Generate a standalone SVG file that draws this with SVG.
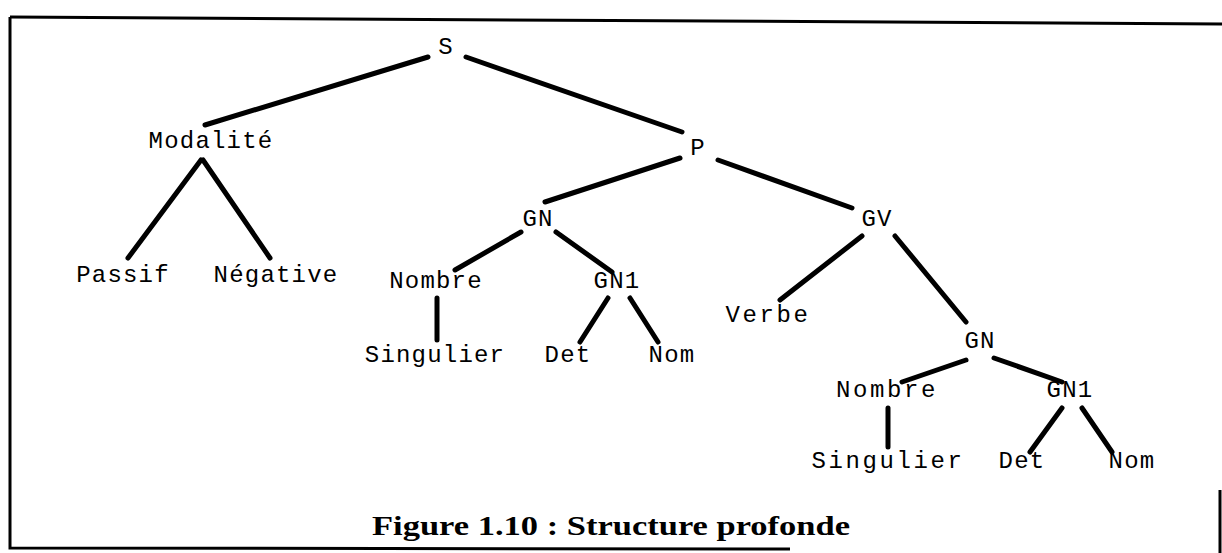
<svg xmlns="http://www.w3.org/2000/svg" width="1222" height="553" viewBox="0 0 1222 553">
<style>
.n{font-family:"Liberation Mono","Courier New",monospace;font-size:24px;letter-spacing:1.2px;fill:#000;text-anchor:middle}
.w{letter-spacing:2.6px}
.e{stroke:#000;stroke-width:5;stroke-linecap:round;fill:none}
.f{stroke:#000;stroke-width:3;fill:none}
.cap{font-family:"Liberation Serif","Times New Roman",serif;font-size:27px;font-weight:bold;fill:#000}
</style>
<rect width="1222" height="553" fill="#fff"/>
<g id="frame">
<path class="f" d="M10,17 L1222,24"/>
<path class="f" d="M10,17 L10,548 L790,549"/>
<path class="f" d="M1220,490 L1220,553"/>
</g>
<g id="connectors">
<line class="e" x1="428" y1="57" x2="205" y2="125"/>
<line class="e" x1="466" y1="57" x2="682" y2="132"/>
<line class="e" x1="201" y1="160" x2="128" y2="258"/>
<line class="e" x1="203" y1="160" x2="270" y2="258"/>
<line class="e" x1="680" y1="158" x2="545" y2="202"/>
<line class="e" x1="718" y1="160" x2="852" y2="208"/>
<line class="e" x1="521" y1="232" x2="455" y2="270"/>
<line class="e" x1="556" y1="232" x2="612" y2="272"/>
<line class="e" x1="437" y1="298" x2="437" y2="340"/>
<line class="e" x1="608" y1="298" x2="580" y2="342"/>
<line class="e" x1="630" y1="298" x2="658" y2="342"/>
<line class="e" x1="862" y1="236" x2="780" y2="300"/>
<line class="e" x1="895" y1="236" x2="966" y2="322"/>
<line class="e" x1="966" y1="360" x2="902" y2="382"/>
<line class="e" x1="994" y1="358" x2="1062" y2="382"/>
<line class="e" x1="888" y1="408" x2="888" y2="447"/>
<line class="e" x1="1062" y1="408" x2="1030" y2="452"/>
<line class="e" x1="1082" y1="408" x2="1112" y2="452"/>
</g>
<g id="n-S"><text class="n" x="446" y="54">S</text></g>
<g id="n-Modalite"><text class="n" x="211" y="148">Modalité</text></g>
<g id="n-Passif"><text class="n" x="123" y="282">Passif</text></g>
<g id="n-Negative"><text class="n" x="276" y="282">Négative</text></g>
<g id="n-P"><text class="n" x="698" y="155">P</text></g>
<g id="n-GN1"><text class="n" x="538" y="226">GN</text></g>
<g id="n-Nombre1"><text class="n" x="436" y="288">Nombre</text></g>
<g id="n-GN1a"><text class="n" x="617" y="288">GN1</text></g>
<g id="n-Singulier1"><text class="n" x="435" y="362">Singulier</text></g>
<g id="n-Det1"><text class="n" x="568" y="362">Det</text></g>
<g id="n-Nom1"><text class="n" x="672" y="362">Nom</text></g>
<g id="n-GV"><text class="n" x="877" y="226">GV</text></g>
<g id="n-Verbe"><text class="n w" x="768" y="322">Verbe</text></g>
<g id="n-GN2"><text class="n" x="980" y="348">GN</text></g>
<g id="n-Nombre2"><text class="n w" x="887" y="397">Nombre</text></g>
<g id="n-GN1b"><text class="n" x="1070" y="397">GN1</text></g>
<g id="n-Singulier2"><text class="n w" x="888" y="468">Singulier</text></g>
<g id="n-Det2"><text class="n" x="1022" y="468">Det</text></g>
<g id="n-Nom2"><text class="n" x="1132" y="468">Nom</text></g>
<g id="caption"><text class="cap" x="372" y="535" textLength="478" lengthAdjust="spacingAndGlyphs">Figure 1.10 : Structure profonde</text></g>
</svg>
